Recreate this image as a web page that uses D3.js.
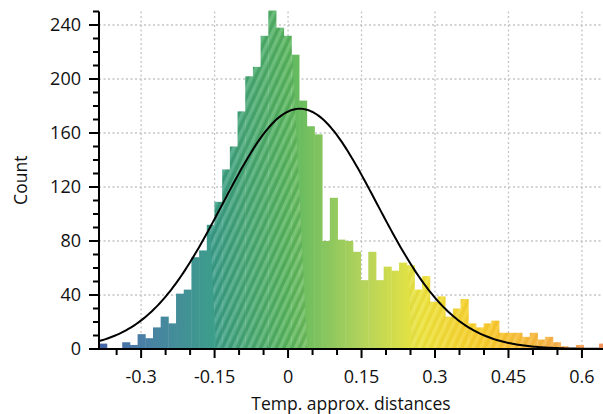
<!DOCTYPE html>
<html>
<head>
<meta charset="utf-8">
<script src="https://cdn.jsdelivr.net/npm/d3@7"></script>
<style>
  body { margin: 0; background: #fff; }
  svg { display: block; font-family: "Open Sans", "Noto Sans", sans-serif; }
</style>
</head>
<body>
<div id="chart"></div>
<script>
// Histogram bins (left edge of first bin and bin width, in data units)
const binStart = -0.3857;
const binWidth = 0.0157;
// Counts per bin
const counts = [4, 0, 0, 5, 3, 11, 8, 16, 24, 19,
    41, 44, 68, 73, 92, 109, 133, 150, 176, 202,
    209, 232, 251, 238, 232, 218, 184, 165, 159, 80,
    112, 81, 80, 72, 51, 72, 51, 61, 58, 64,
    62, 44, 54, 35, 39, 24, 30, 37, 19, 16,
    19, 21, 12, 12, 12, 9, 12, 7, 9, 5,
    2, 0, 3, 0, 0, 4];

// Fitted normal curve (mean, sd, peak height in counts)
const fitMean = 0.024;
const fitSd = 0.157;
const fitPeak = 178;

// Axis ticks
const xMajorTicks = [-0.3, -0.15, 0, 0.15, 0.3, 0.45, 0.6];
const xTickLabels = ["-0.3", "-0.15", "0", "0.15", "0.3", "0.45", "0.6"];
const xMinorTicks = [-0.35, -0.25, -0.2, -0.1, -0.05, 0.05, 0.1, 0.2, 0.25, 0.35, 0.4, 0.5, 0.55];
const yMajorTicks = [0, 40, 80, 120, 160, 200, 240];
const yMinorTicks = d3.range(0, 251, 10);

// Hatched intervals (data units at the baseline)
const hatchIntervals = [[-0.147, 0.039], [0.253, 0.7]];

// Colour ramp along x
const colorStops = [
    [-0.386, "#4565aa"], [-0.3, "#4a7ea6"], [-0.15, "#3c9e8a"], [0, "#5cb860"],
    [0.15, "#b2d35c"], [0.27, "#ece43e"], [0.4, "#f8cb2a"], [0.52, "#f7b540"], [0.643, "#f49460"]
];

const width = 603, height = 414;
const margin = { top: 11.5, right: 0, bottom: 65, left: 99 };
const w = width - margin.left - margin.right;
const h = height - margin.top - margin.bottom;

const svg = d3.select("#chart").append("svg")
    .attr("width", width)
    .attr("height", height);

const x = d3.scaleLinear().domain([-0.386, 0.643]).range([margin.left, width - margin.right]);
const y = d3.scaleLinear().domain([0, 250]).range([margin.top + h, margin.top]);

const defs = svg.append("defs");

// Gradient fill for the bars
const grad = defs.append("linearGradient")
    .attr("id", "ramp")
    .attr("gradientUnits", "userSpaceOnUse")
    .attr("x1", x.range()[0]).attr("x2", x.range()[1])
    .attr("y1", 0).attr("y2", 0);
grad.selectAll("stop")
    .data(colorStops)
    .join("stop")
    .attr("offset", d => (x(d[0]) - x.range()[0]) / (x.range()[1] - x.range()[0]))
    .attr("stop-color", d => d[1]);

defs.append("clipPath").attr("id", "plot")
    .append("rect")
    .attr("x", margin.left).attr("y", margin.top - 1)
    .attr("width", w).attr("height", h + 1);

// Hatch patterns
function hatch(id, light, dark) {
    const p = defs.append("pattern")
        .attr("id", id)
        .attr("patternUnits", "userSpaceOnUse")
        .attr("width", 7).attr("height", 7)
        .attr("patternTransform", "rotate(25)");
    p.append("rect").attr("width", 3.5).attr("height", 7).attr("fill", light);
    p.append("rect").attr("x", 3.5).attr("width", 3.5).attr("height", 7).attr("fill", dark);
}
hatch("hatchA", "rgba(255,255,255,0.13)", "rgba(0,70,20,0.10)");
hatch("hatchB", "rgba(255,255,255,0.10)", "rgba(150,90,0,0.05)");

// Skewed clip regions for the hatches
const skew = 0.05;
hatchIntervals.forEach((iv, i) => {
    const x0 = x(iv[0]), x1 = x(iv[1]);
    const yb = y(0), yt = y(250);
    const dx = (yb - yt) * skew;
    defs.append("clipPath").attr("id", "hc" + i)
        .append("polygon")
        .attr("points", [[x0, yb], [x1, yb], [x1 - dx, yt], [x0 - dx, yt]].map(p => p.join(",")).join(" "));
});

// Grid lines
const grid = svg.append("g").attr("stroke", "#c4c4c4").attr("stroke-width", 1.3).attr("stroke-dasharray", "2,2.5");
grid.selectAll("line.v")
    .data(xMajorTicks)
    .join("line")
    .attr("class", "v")
    .attr("x1", d => x(d)).attr("x2", d => x(d))
    .attr("y1", y(250)).attr("y2", y(0));
grid.selectAll("line.h")
    .data(yMajorTicks.filter(d => d > 0))
    .join("line")
    .attr("class", "h")
    .attr("x1", margin.left).attr("x2", width)
    .attr("y1", d => y(d)).attr("y2", d => y(d));

// Bars
const bins = counts.map((c, i) => ({ x0: binStart + i * binWidth, x1: binStart + (i + 1) * binWidth, count: c }));
const plot = svg.append("g").attr("clip-path", "url(#plot)");

function drawBars(g, fill) {
    g.selectAll("rect")
        .data(bins.filter(d => d.count > 0))
        .join("rect")
        .attr("x", d => x(d.x0))
        .attr("y", d => y(d.count))
        .attr("width", d => x(d.x1) - x(d.x0) + 0.4)
        .attr("height", d => y(0) - y(d.count))
        .attr("fill", fill);
}
drawBars(plot.append("g"), "url(#ramp)");
drawBars(plot.append("g").attr("clip-path", "url(#hc0)"), "url(#hatchA)");
drawBars(plot.append("g").attr("clip-path", "url(#hc1)"), "url(#hatchB)");

// Normal curve
const curvePts = d3.range(x.domain()[0], x.domain()[1], 0.004)
    .map(v => [v, fitPeak * Math.exp(-((v - fitMean) ** 2) / (2 * fitSd * fitSd))]);
plot.append("path")
    .datum(curvePts)
    .attr("fill", "none")
    .attr("stroke", "#000")
    .attr("stroke-width", 2)
    .attr("d", d3.line().x(d => x(d[0])).y(d => y(d[1])));

// Y axis
const yAxis = svg.append("g").attr("stroke", "#000").attr("stroke-width", 2);
yAxis.append("line")
    .attr("x1", margin.left).attr("x2", margin.left)
    .attr("y1", y(250)).attr("y2", y(0) + 1);
yAxis.selectAll("line.minor")
    .data(yMinorTicks)
    .join("line")
    .attr("class", "minor")
    .attr("x1", margin.left).attr("x2", d => margin.left - (yMajorTicks.includes(d) ? 10 : 6))
    .attr("y1", d => y(d)).attr("y2", d => y(d));
svg.append("g").selectAll("text")
    .data(yMajorTicks)
    .join("text")
    .attr("x", margin.left - 18)
    .attr("y", d => y(d))
    .attr("dy", "0.35em")
    .attr("text-anchor", "end")
    .attr("font-size", 18)
    .attr("fill", "#111")
    .text(d => d);

// X axis
const xAxis = svg.append("g").attr("stroke", "#000").attr("stroke-width", 2);
xAxis.append("line")
    .attr("x1", margin.left - 1).attr("x2", width)
    .attr("y1", y(0)).attr("y2", y(0));
xAxis.selectAll("line.tick")
    .data(xMajorTicks.map(v => [v, 9]).concat(xMinorTicks.map(v => [v, 6])))
    .join("line")
    .attr("class", "tick")
    .attr("x1", d => x(d[0])).attr("x2", d => x(d[0]))
    .attr("y1", y(0)).attr("y2", d => y(0) + d[1]);
svg.append("g").selectAll("text")
    .data(xMajorTicks)
    .join("text")
    .attr("x", d => x(d))
    .attr("y", 383)
    .attr("text-anchor", "middle")
    .attr("font-size", 18)
    .attr("fill", "#111")
    .text((d, i) => xTickLabels[i]);

// Axis labels
svg.append("text")
    .attr("x", margin.left + w / 2)
    .attr("y", 410)
    .attr("text-anchor", "middle")
    .attr("font-size", 17.5)
    .attr("fill", "#111")
    .text("Temp. approx. distances");
svg.append("text")
    .attr("transform", "translate(" + 27 + "," + (margin.top + h / 2) + ") rotate(-90)")
    .attr("text-anchor", "middle")
    .attr("font-size", 17.5)
    .attr("fill", "#111")
    .text("Count");
</script>
</body>
</html>
